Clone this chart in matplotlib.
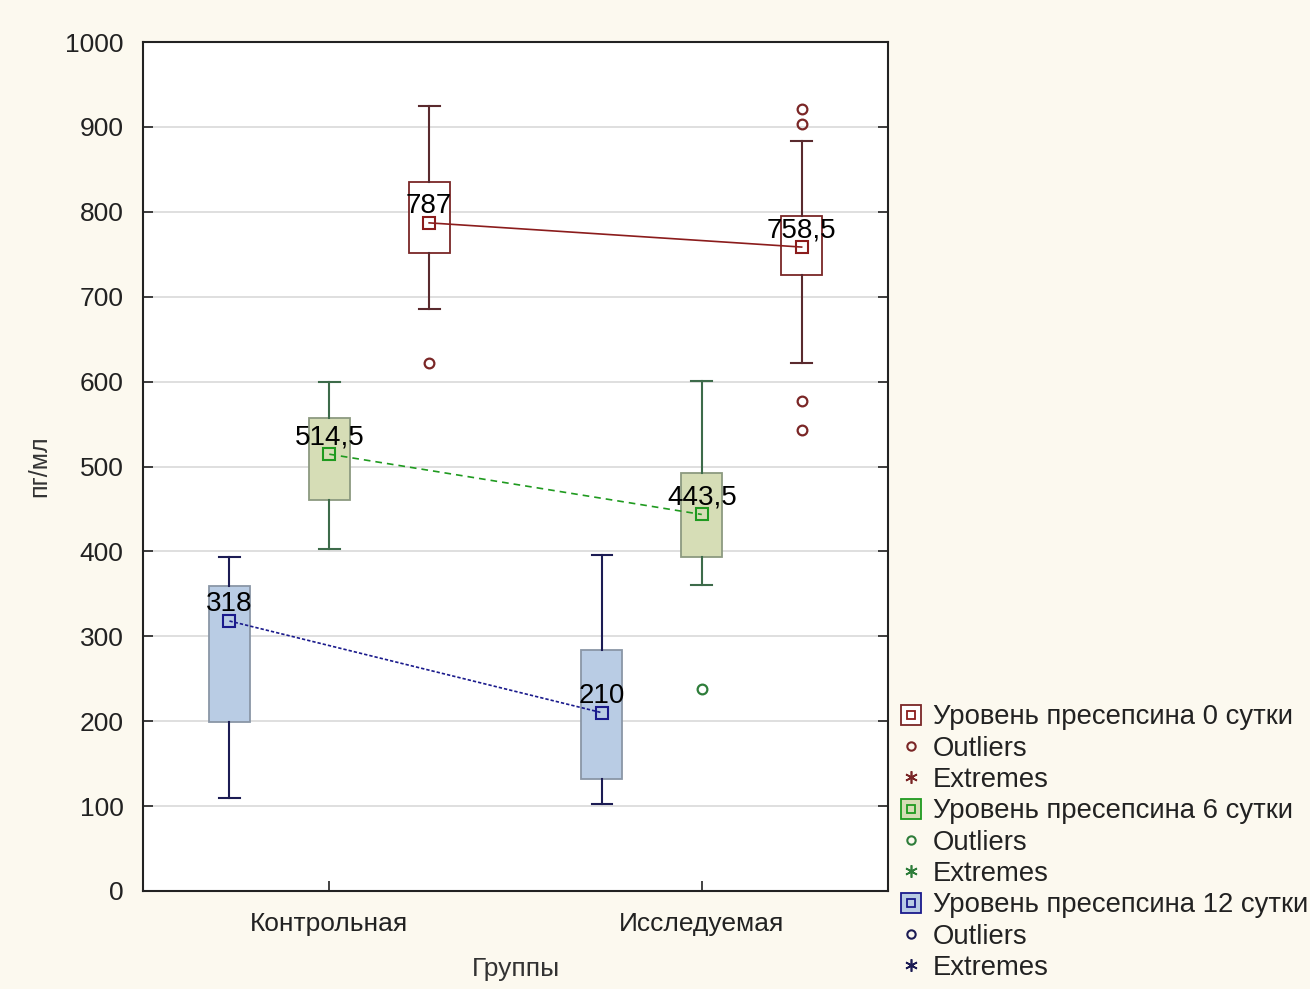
import matplotlib
matplotlib.use('Agg')
import matplotlib.pyplot as plt
from matplotlib.lines import Line2D
from matplotlib.legend_handler import HandlerTuple

plt.rcParams['font.family'] = ['Liberation Sans', 'DejaVu Sans']

# data
groups = ['Контрольная', 'Исследуемая']
series_names = ['Уровень пресепсина 0 сутки', 'Уровень пресепсина 6 сутки',
                'Уровень пресепсина 12 сутки']

day0_med = [787, 758.5]
day0_q1 = [752, 726]
day0_q3 = [835, 795]
day0_lo = [685, 622]
day0_hi = [925, 884]
day0_out = [[622], [921, 904, 577, 543]]

day6_med = [514.5, 443.5]
day6_q1 = [460, 393]
day6_q3 = [557, 492]
day6_lo = [403, 360]
day6_hi = [599, 601]
day6_out = [[], [238]]

day12_med = [318, 210]
day12_q1 = [199, 132]
day12_q3 = [359, 284]
day12_lo = [110, 102]
day12_hi = [393, 396]
day12_out = [[], []]

med_labels = [['787', '758,5'], ['514,5', '443,5'], ['318', '210']]

# style per series: offset, box face, box edge, whisker colour, marker colour, outlier colour, line style
styles = [
    dict(off=0.268, face='white', edge='#7a2626', wcol='#5a2a2e', mcol='#8b1c1c',
         ocol='#7a2626', ls='-'),
    dict(off=0.0, face='#d6ddb6', edge='#8c9a80', wcol='#3d6b4a', mcol='#1f9a1f',
         ocol='#2e7d3a', ls=(0, (4, 3))),
    dict(off=-0.268, face='#b9cce4', edge='#8a96a6', wcol='#1c1c54', mcol='#1a1a8c',
         ocol='#1c1c54', ls=(0, (2, 1.2))),
]
data = [
    (day0_med, day0_q1, day0_q3, day0_lo, day0_hi, day0_out),
    (day6_med, day6_q1, day6_q3, day6_lo, day6_hi, day6_out),
    (day12_med, day12_q1, day12_q3, day12_lo, day12_hi, day12_out),
]

fig = plt.figure(figsize=(13.1, 9.89), dpi=100, facecolor='#fcf9ef')
ax = fig.add_axes([0.1092, 0.0991, 0.5687, 0.8584])
ax.set_facecolor('white')

FS = 19
handles = []
for k, (d, st) in enumerate(zip(data, styles)):
    med, q1, q3, lo, hi, out = d
    stats = []
    for i in range(len(groups)):
        stats.append(dict(med=med[i], q1=q1[i], q3=q3[i], whislo=lo[i], whishi=hi[i],
                          fliers=out[i]))
    pos = [i + 1 + st['off'] for i in range(len(groups))]
    ax.bxp(stats, positions=pos, widths=0.11, capwidths=0.056, patch_artist=True,
           manage_ticks=False,
           boxprops=dict(facecolor=st['face'], edgecolor=st['edge'], linewidth=1.3),
           whiskerprops=dict(color=st['wcol'], linewidth=1.5),
           capprops=dict(color=st['wcol'], linewidth=1.5),
           medianprops=dict(linewidth=0),
           flierprops=dict(marker='o', markersize=7, markerfacecolor='none',
                           markeredgecolor=st['ocol'], markeredgewidth=1.6),
           zorder=3)
    ax.plot(pos, med, color=st['mcol'], linestyle=st['ls'], linewidth=1.2,
            marker='s', markersize=8, markerfacecolor='none',
            markeredgecolor=st['mcol'], markeredgewidth=1.5, zorder=4)
    for x, y, lab in zip(pos, med, med_labels[k]):
        ax.annotate(lab, (x, y), xytext=(0, 7), textcoords='offset points',
                    ha='center', va='baseline', fontsize=FS + 1, color='#000000', zorder=5)

    box_h = (Line2D([], [], marker='s', markersize=14, linestyle='none',
                    markerfacecolor=st['face'], markeredgecolor=st['mcol'] if k else st['edge'],
                    markeredgewidth=1.3),
             Line2D([], [], marker='s', markersize=6, linestyle='none',
                    markerfacecolor='none', markeredgecolor=st['mcol'], markeredgewidth=1.3))
    out_h = Line2D([], [], marker='o', markersize=6, linestyle='none',
                   markerfacecolor='none', markeredgecolor=st['ocol'], markeredgewidth=1.5)
    ext_h = Line2D([], [], marker=(6, 2, 0), markersize=9, linestyle='none',
                   markeredgecolor=st['ocol'], markeredgewidth=1.2)
    handles += [(box_h, series_names[k]), (out_h, 'Outliers'), (ext_h, 'Extremes')]

ax.set_xlim(0.5, 2.5)
ax.set_ylim(0, 1000)
ax.set_xticks([1, 2])
ax.set_xticklabels(groups)
ax.set_yticks(range(0, 1001, 100))
ax.yaxis.grid(True, color='#d9d9d9', linewidth=1.2, zorder=0)
ax.set_axisbelow(True)
ax.tick_params(axis='both', direction='in', length=7, width=1.2, labelsize=FS,
               colors='#222222', right=True)
ax.tick_params(axis='x', pad=15)
ax.tick_params(axis='y', pad=14)
for sp in ax.spines.values():
    sp.set_linewidth(1.5)
    sp.set_color('#222222')

ax.set_xlabel('Группы', fontsize=FS, color='#333333', labelpad=15)
ax.set_ylabel('пг/мл', fontsize=FS - 1, color='#333333', labelpad=10)

fig.legend([h for h, _ in handles], [l for _, l in handles],
           handler_map={tuple: HandlerTuple(ndivide=1, pad=0)},
           loc='upper left', bbox_to_anchor=(0.686, 0.288), frameon=False,
           fontsize=FS + 0.8, handlelength=0.9, handletextpad=0.35, labelspacing=0.195,
           borderpad=0, borderaxespad=0, labelcolor='#222222')

fig.savefig('out.png', dpi=100, facecolor=fig.get_facecolor())
